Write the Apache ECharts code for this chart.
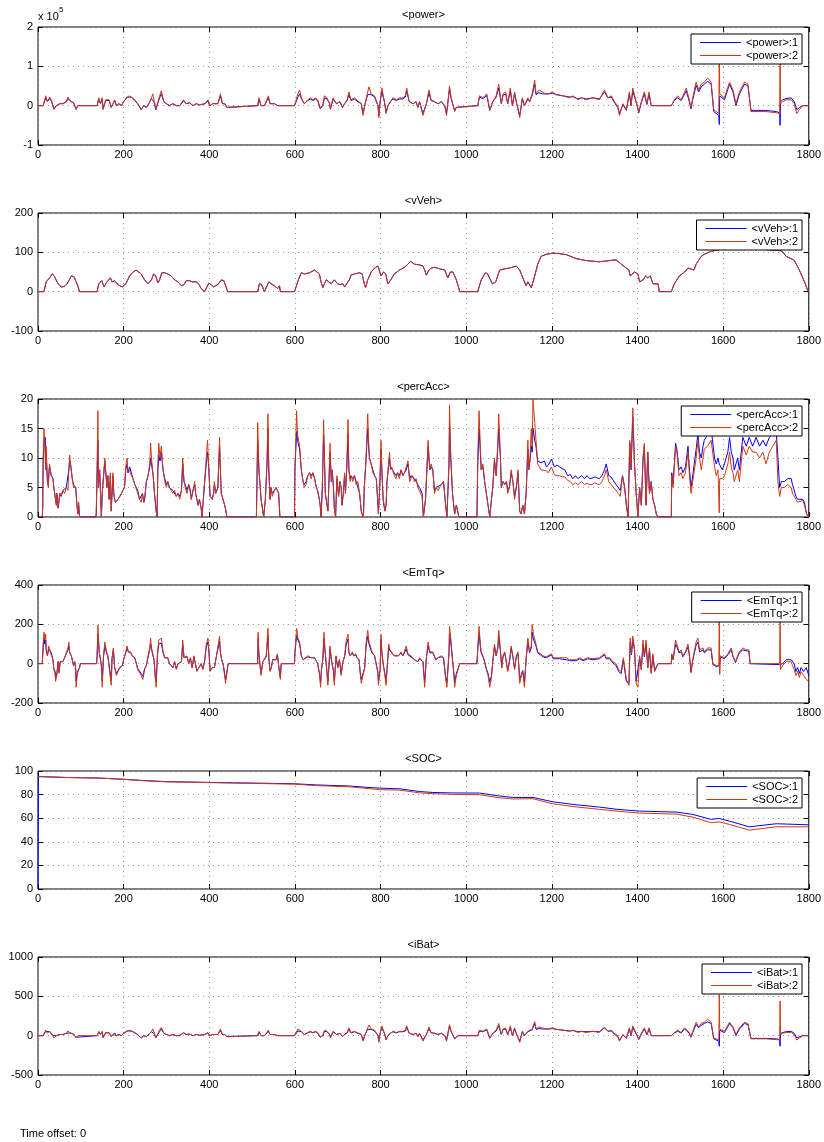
<!DOCTYPE html>
<html>
<head>
<meta charset="utf-8">
<script src="https://cdn.jsdelivr.net/npm/echarts@6/dist/echarts.min.js"></script>
<style>
  html, body { margin: 0; padding: 0; background: #fff; }
  #chart { width: 824px; height: 1142px; }
</style>
</head>
<body>
<div id="chart"></div>
<script>
// Simulation signals, sampled as [time (s), value] pairs.
const xTicks = [0, 200, 400, 600, 800, 1000, 1200, 1400, 1600, 1800];
const powerTicks = [-1, 0, 1, 2];          // x 10^5
const vVehTicks = [-100, 0, 100, 200];
const percAccTicks = [0, 5, 10, 15, 20];
const emTqTicks = [-200, 0, 200, 400];
const socTicks = [0, 20, 40, 60, 80, 100];
const iBatTicks = [-500, 0, 500, 1000];

// <power> in units of 10^5
const power1 = [[0,0],[12,0],[18,.2],[22,.1],[27,.18],[31,.12],[35,0],[37,-.08],[43,0],[47,-.04],[51,.05],[58,.05],[66,.1],[70,.18],[75,.12],[83,.07],[89,-.08],[93,0],[138,0],[142,.16],[146,.05],[150,.17],[152,-.08],[158,.13],[166,.13],[169,.17],[171,-.04],[175,.05],[179,.13],[183,0],[189,.05],[195,0],[200,.1],[208,.22],[214,.22],[220,.2],[226,.13],[233,.04],[241,-.1],[247,0],[253,-.04],[259,.05],[265,.18],[268,.22],[272,.08],[275,-.1],[278,-.08],[284,.2],[288,.3],[294,.1],[300,.05],[307,0],[315,.05],[323,0],[331,0],[340,.12],[346,.05],[354,.07],[362,0],[370,.05],[377,.02],[390,.05],[397,.12],[401,0],[408,.05],[420,.05],[426,.24],[431,.05],[436,.05],[441,-.04],[444,0],[513,0],[516,.16],[521,0],[529,0],[538,.2],[542,.05],[552,.05],[560,0],[564,.04],[568,0],[599,0],[607,.22],[611,.3],[615,.18],[622,.05],[630,.13],[636,.17],[642,.13],[648,.17],[653,.13],[659,-.08],[661,-.12],[665,0],[669,.2],[675,.17],[681,.05],[683,-.08],[689,.17],[697,.05],[705,.1],[711,-.04],[716,.05],[722,.13],[726,.28],[731,.13],[739,.17],[747,.1],[755,.05],[759,-.2],[763,0],[767,.17],[770,.28],[773,.32],[778,.28],[786,.22],[794,0],[796,-.25],[799,.1],[803,.36],[809,.1],[813,-.17],[817,0],[823,.1],[829,.17],[837,.13],[844,.17],[852,.17],[858,.22],[861,.38],[867,.1],[876,.05],[883,.1],[887,-.04],[891,.1],[899,-.2],[907,.05],[913,.33],[918,.13],[926,.1],[934,.05],[942,.1],[950,0],[954,-.2],[961,.42],[965,.17],[973,-.13],[977,-.04],[981,0],[1027,0],[1031,.22],[1039,.18],[1048,.26],[1055,-.12],[1062,.1],[1070,.22],[1076,.45],[1082,.05],[1086,.26],[1092,.3],[1097,.05],[1103,.38],[1108,0],[1113,.3],[1118,.05],[1125,-.25],[1131,.17],[1136,0],[1144,.17],[1148,.1],[1154,.26],[1160,.55],[1163,.28],[1170,.33],[1178,.3],[1185,.3],[1193,.3],[1201,.32],[1210,.28],[1226,.25],[1241,.22],[1249,.23],[1261,.17],[1269,.2],[1280,.17],[1296,.2],[1311,.17],[1323,.35],[1331,.2],[1339,.22],[1346,.08],[1354,-.05],[1358,-.2],[1366,.03],[1374,-.12],[1381,.3],[1385,0],[1389,.38],[1397,.08],[1403,-.18],[1409,.08],[1416,.3],[1422,.03],[1427,.3],[1432,0],[1440,0],[1444,-.05],[1448,0],[1479,0],[1486,.13],[1494,.2],[1502,.13],[1510,.3],[1514,.38],[1521,.1],[1525,-.08],[1529,.15],[1537,.52],[1543,.35],[1549,.48],[1556,.55],[1564,.62],[1572,.55],[1578,-.15],[1590,-.25],[1591,-.48],[1592,.25],[1595,.3],[1603,.15],[1615,.55],[1623,.35],[1630,0],[1638,.3],[1650,.55],[1658,.5],[1661,.45],[1665,-.12],[1700,-.12],[1724,-.15],[1732,-.18],[1733,-.5],[1734,.1],[1739,.15],[1747,.18],[1759,.2],[1766,.1],[1772,-.1],[1778,-.05],[1786,0],[1800,0]];
const power2 = [[0,0],[12,0],[18,.25],[22,.1],[27,.22],[31,.15],[35,0],[37,-.1],[43,0],[47,-.05],[51,.05],[58,.05],[66,.1],[70,.22],[75,.12],[83,.08],[89,-.1],[93,0],[138,0],[142,.2],[146,.05],[150,.2],[152,-.1],[158,.15],[166,.15],[169,.2],[171,-.05],[175,.05],[179,.15],[183,0],[189,.05],[195,0],[200,.1],[208,.2],[214,.25],[220,.2],[226,.15],[233,.05],[241,-.1],[247,0],[253,-.05],[259,.05],[265,.2],[268,.3],[272,.1],[275,-.1],[278,-.1],[284,.25],[288,.38],[294,.1],[300,.05],[307,0],[315,.05],[323,0],[331,0],[340,.15],[346,.05],[354,.08],[362,0],[370,.05],[377,.02],[390,.05],[397,.15],[401,0],[408,.05],[420,.05],[426,.3],[431,.05],[436,.05],[441,-.05],[444,0],[513,0],[516,.2],[521,0],[529,0],[538,.25],[542,.05],[552,.05],[560,0],[564,.05],[568,0],[599,0],[607,.3],[611,.4],[615,.2],[622,.05],[630,.15],[636,.2],[642,.15],[648,.2],[653,.15],[659,-.05],[661,-.1],[665,0],[669,.25],[675,.2],[681,.05],[683,-.1],[689,.2],[697,.05],[705,.1],[711,-.05],[716,.05],[722,.15],[726,.35],[731,.15],[739,.2],[747,.12],[755,.05],[759,-.25],[763,0],[767,.2],[770,.35],[773,.48],[778,.3],[786,.25],[794,0],[796,-.3],[799,.1],[803,.45],[809,.1],[813,-.2],[817,0],[823,.1],[829,.2],[837,.15],[844,.2],[852,.2],[858,.25],[861,.45],[867,.1],[876,.05],[883,.1],[887,-.05],[891,.1],[899,-.25],[907,.05],[913,.4],[918,.15],[926,.1],[934,.05],[942,.1],[950,0],[954,-.25],[961,.5],[965,.2],[973,-.15],[977,-.05],[981,0],[1027,0],[1031,.25],[1039,.2],[1048,.3],[1055,-.1],[1062,.1],[1070,.25],[1076,.55],[1082,.05],[1086,.3],[1092,.35],[1097,.05],[1103,.45],[1108,0],[1113,.35],[1118,.05],[1125,-.3],[1131,.2],[1136,0],[1144,.2],[1148,.1],[1154,.3],[1160,.65],[1163,.3],[1170,.4],[1178,.35],[1185,.3],[1193,.3],[1201,.35],[1210,.28],[1226,.25],[1241,.2],[1249,.25],[1261,.15],[1269,.2],[1280,.15],[1296,.2],[1311,.15],[1323,.4],[1331,.2],[1339,.25],[1346,.1],[1354,0],[1358,-.25],[1366,.05],[1374,-.1],[1381,.35],[1385,0],[1389,.45],[1397,.1],[1403,-.15],[1409,.1],[1416,.35],[1422,.05],[1427,.35],[1432,0],[1440,0],[1444,-.05],[1448,0],[1479,0],[1486,.15],[1494,.25],[1502,.15],[1510,.35],[1514,.45],[1521,.15],[1525,-.05],[1529,.2],[1537,.6],[1543,.4],[1549,.55],[1556,.6],[1564,.7],[1572,.6],[1578,-.1],[1590,-.2],[1591,1.5],[1592,.3],[1595,.35],[1603,.2],[1615,.6],[1623,.4],[1630,.05],[1638,.35],[1650,.6],[1658,.55],[1661,.5],[1665,-.15],[1700,-.15],[1724,-.18],[1732,-.2],[1733,1.5],[1734,.05],[1739,.1],[1747,.15],[1759,.15],[1766,.05],[1772,-.2],[1778,-.1],[1786,0],[1800,0]];

// <vVeh>
const vVeh1 = [[0,0],[14,0],[19,25],[23,30],[27,35],[33,45],[38,40],[43,28],[47,20],[54,12],[60,13],[66,17],[72,28],[78,40],[84,38],[88,35],[93,15],[97,0],[138,0],[142,20],[149,28],[154,12],[161,25],[169,35],[173,25],[179,28],[185,20],[191,15],[197,12],[205,20],[214,40],[222,50],[229,55],[233,55],[241,45],[249,30],[257,20],[261,18],[265,30],[270,45],[275,40],[280,22],[284,30],[289,48],[296,48],[303,45],[311,40],[319,30],[327,25],[335,15],[341,18],[346,28],[354,28],[360,25],[364,22],[370,25],[376,18],[381,8],[389,0],[393,5],[399,22],[404,18],[410,12],[415,15],[420,18],[424,15],[428,30],[434,28],[440,10],[443,0],[513,0],[517,20],[522,18],[529,0],[533,5],[539,25],[547,18],[552,15],[556,15],[560,8],[564,15],[566,0],[599,0],[608,30],[615,48],[622,45],[634,48],[646,55],[650,57],[657,45],[661,25],[665,10],[673,30],[677,35],[685,20],[692,30],[700,20],[706,18],[712,20],[716,12],[720,15],[727,30],[731,42],[739,45],[751,48],[757,45],[762,20],[765,10],[770,30],[778,50],[786,60],[794,65],[798,60],[801,40],[807,50],[812,45],[817,20],[824,30],[832,45],[844,55],[856,62],[864,70],[870,77],[879,70],[891,68],[899,65],[903,55],[907,42],[913,55],[918,60],[926,62],[938,58],[950,55],[957,35],[963,50],[969,50],[977,30],[985,0],[1027,0],[1035,30],[1045,48],[1050,45],[1061,20],[1069,25],[1078,55],[1090,58],[1101,60],[1117,65],[1125,55],[1136,25],[1140,15],[1144,25],[1152,10],[1160,40],[1167,70],[1175,90],[1187,95],[1202,98],[1215,97],[1234,94],[1257,84],[1280,79],[1311,76],[1327,78],[1350,81],[1362,70],[1374,60],[1380,55],[1383,40],[1393,50],[1401,45],[1405,25],[1413,30],[1419,40],[1424,35],[1430,40],[1436,20],[1448,20],[1451,0],[1479,0],[1486,20],[1498,40],[1510,50],[1518,60],[1521,65],[1532,55],[1537,70],[1549,90],[1556,95],[1568,101],[1585,106],[1600,108],[1650,108],[1700,107],[1735,104],[1740,100],[1747,90],[1766,80],[1778,55],[1790,25],[1797,5],[1800,0]];
const vVeh2 = [[0,0],[14,0],[19,25],[23,30],[27,35],[33,45],[38,40],[43,28],[47,20],[54,12],[60,13],[66,17],[72,28],[78,40],[84,38],[88,35],[93,15],[97,0],[138,0],[142,20],[149,28],[154,12],[161,25],[169,35],[173,25],[179,28],[185,20],[191,15],[197,12],[205,20],[214,40],[222,50],[229,55],[233,55],[241,45],[249,30],[257,20],[261,18],[265,30],[270,45],[275,40],[280,22],[284,30],[289,48],[296,48],[303,45],[311,40],[319,30],[327,25],[335,15],[341,18],[346,28],[354,28],[360,25],[364,22],[370,25],[376,18],[381,8],[389,0],[393,5],[399,22],[404,18],[410,12],[415,15],[420,18],[424,15],[428,30],[434,28],[440,10],[443,0],[513,0],[517,20],[522,18],[529,0],[533,5],[539,25],[547,18],[552,15],[556,15],[560,8],[564,15],[566,0],[599,0],[608,30],[615,48],[622,45],[634,48],[646,55],[650,57],[657,45],[661,25],[665,10],[673,30],[677,35],[685,20],[692,30],[700,20],[706,18],[712,20],[716,12],[720,15],[727,30],[731,42],[739,45],[751,48],[757,45],[762,20],[765,10],[770,30],[778,50],[786,60],[794,65],[798,60],[801,40],[807,50],[812,45],[817,20],[824,30],[832,45],[844,55],[856,62],[864,70],[870,77],[879,70],[891,68],[899,65],[903,55],[907,42],[913,55],[918,60],[926,62],[938,58],[950,55],[957,35],[963,50],[969,50],[977,30],[985,0],[1027,0],[1035,30],[1045,48],[1050,45],[1061,20],[1069,25],[1078,55],[1090,58],[1101,60],[1117,65],[1125,55],[1136,25],[1140,15],[1144,25],[1152,10],[1160,40],[1167,70],[1175,90],[1187,95],[1202,98],[1215,97],[1234,94],[1257,84],[1280,79],[1311,76],[1327,78],[1350,81],[1362,70],[1374,60],[1380,55],[1383,40],[1393,50],[1401,45],[1405,25],[1413,30],[1419,40],[1424,35],[1430,40],[1436,20],[1448,20],[1451,0],[1479,0],[1486,20],[1498,40],[1510,50],[1518,60],[1521,65],[1532,55],[1537,70],[1549,90],[1556,95],[1568,101],[1585,106],[1600,108],[1650,108],[1700,107],[1735,104],[1740,100],[1747,90],[1766,80],[1778,55],[1790,25],[1797,5],[1800,0]];

// <percAcc>
const percAcc1 = [[0,0],[10,0],[11,1.5],[12,9],[14,13],[17,13.5],[18,8],[19,11],[22,6],[24,5.5],[26,8],[27,8.5],[31,7],[35,6.5],[37,5],[41,3],[43,2],[44,4],[47,1.5],[51,4],[54,3.5],[58,4.5],[62,4.5],[66,5],[70,5],[72,8],[74,9.5],[76,9],[80,6.5],[83,5.5],[88,5],[91,2],[93,.5],[95,2],[97,0],[135,0],[136,.5],[140,13],[141,5],[144,8],[148,0],[150,4],[156,9.5],[160,9.5],[161,5],[163,7],[166,3],[169,7],[171,1],[175,7],[177,4],[179,3],[181,2.5],[187,3],[191,3.5],[195,4],[198,4.5],[202,5],[205,8],[208,9],[210,7.5],[214,8.5],[218,7.5],[222,6.5],[226,5.5],[229,5.5],[233,4.5],[237,3],[241,3],[244,4],[247,2.5],[249,3],[253,6],[257,7],[261,8.5],[263,10],[265,9],[269,7],[272,4],[276,1],[278,0],[280,8],[282,10.5],[285,9.5],[288,11],[292,8],[296,6.5],[300,5.5],[303,6],[307,5],[311,5],[315,4.5],[319,4.5],[323,3.5],[327,4],[331,3.5],[335,4.5],[338,9],[341,6],[344,5.5],[348,4.5],[352,5.5],[356,4.5],[358,3],[362,4.5],[366,5.5],[368,4],[371,3],[374,2],[377,3],[381,1.5],[383,0],[387,0],[391,7.5],[394,10],[396,11],[399,8],[402,3.5],[407,3],[410,4],[412,5.5],[415,4],[420,5],[424,12],[426,8],[428,4],[432,3],[436,2],[439,1],[441,0],[510,0],[511,4],[513,13],[516,8],[519,5],[521,3],[525,1],[527,0],[531,3],[535,9],[537,15],[539,8],[542,3],[544,5],[547,4],[550,4],[552,4.5],[556,5],[562,4],[565,0],[599,0],[600,8],[604,14.5],[606,13],[611,11.5],[615,8],[619,6],[622,5.5],[626,6],[630,7],[634,7.5],[638,7],[642,7.5],[646,6.5],[650,5],[653,4.5],[657,3],[659,2],[661,0],[664,5],[667,14],[669,10],[671,4],[675,2],[677,1],[679,5],[682,11],[685,6],[687,8],[690,5],[692,1.5],[695,0],[698,6.5],[700,5],[702,3.5],[705,6],[708,5],[710,2],[713,4],[716,7],[718,4],[721,8],[724,14],[726,8],[729,6.5],[731,7],[735,6.5],[739,7],[743,6],[747,6],[751,4],[755,1],[757,.5],[760,0],[762,5],[766,9.5],[770,15],[772,12],[774,10],[778,9],[782,8],[786,7],[790,6.5],[794,2],[795,.5],[798,5],[801,11.5],[803,8],[806,3],[810,1],[813,2],[815,6],[821,10],[823,8.5],[826,8.5],[832,7.5],[836,7],[840,7.5],[844,7],[848,8],[852,7],[856,7.5],[860,8],[864,9],[868,6.5],[871,7],[875,7],[879,6.5],[883,6.5],[887,5.5],[891,5],[897,4],[900,0],[905,3],[911,12],[915,8],[918,8.5],[922,8],[926,4.5],[930,5],[934,5],[942,5.5],[947,6],[952,2],[955,0],[960,9],[961,16],[964,10],[968,4],[973,.5],[977,2],[981,2],[983,0],[1025,0],[1027,9],[1030,15],[1033,11],[1035,8],[1039,8.5],[1043,6],[1047,4],[1051,2],[1055,0],[1059,3],[1062,5],[1066,9.5],[1070,7],[1074,12],[1076,15],[1080,10],[1082,5],[1086,6],[1090,5.5],[1094,6],[1097,4.5],[1101,5],[1105,7.5],[1109,6],[1113,3.5],[1118,5.5],[1121,7.5],[1125,1],[1128,.5],[1132,2],[1136,.5],[1140,4],[1144,11.5],[1146,8],[1149,9.5],[1152,12],[1154,11],[1156,15],[1160,13],[1163,12],[1165,10.5],[1167,9.5],[1171,9.4],[1175,9.2],[1179,9],[1183,9.5],[1187,8.5],[1192,8.8],[1199,9.8],[1206,8.5],[1212,8.8],[1218,8.5],[1224,8.2],[1230,8],[1237,7],[1243,7.2],[1249,6.5],[1255,7],[1261,6.5],[1269,7],[1276,6.5],[1282,7],[1288,6.5],[1294,6.6],[1300,6.8],[1306,6.6],[1311,6.5],[1317,7],[1323,8],[1327,9],[1333,7],[1338,6.8],[1342,6.5],[1350,5.5],[1355,5],[1360,4.5],[1365,7],[1370,5],[1374,2],[1378,0],[1382,12.5],[1385,8],[1389,17],[1393,9],[1397,4],[1401,0],[1405,5],[1409,2],[1413,10],[1416,12],[1420,2],[1424,11],[1428,4],[1432,6],[1436,3],[1440,2],[1444,.5],[1448,0],[1479,0],[1480,7.5],[1483,5.5],[1489,12.5],[1492,11.5],[1497,8],[1502,8.5],[1506,7.5],[1512,8.5],[1518,12],[1521,8.5],[1525,5],[1529,7],[1533,7],[1537,11.5],[1541,14],[1545,11],[1549,10],[1553,12],[1556,13],[1564,14],[1572,15],[1580,10],[1584,9],[1588,10],[1591,9],[1598,8],[1603,9],[1611,11],[1615,13.5],[1619,11],[1623,10],[1626,8],[1630,9],[1634,10],[1638,8],[1646,13.5],[1654,12],[1661,13.5],[1669,12],[1677,13.5],[1685,12],[1693,13],[1700,12],[1708,13.5],[1716,14],[1724,14.5],[1728,10],[1732,5],[1736,6],[1743,6],[1751,6.5],[1759,6.5],[1762,5.5],[1770,3.5],[1774,3],[1778,3],[1786,3],[1790,2.5],[1795,.5],[1800,0]];
const percAcc2 = [[0,0],[10,0],[11,1.5],[12,10],[14,15],[17,15],[18,8],[19,12],[22,6],[24,5],[26,8],[27,9],[31,7],[35,6.5],[37,5],[41,3],[43,2],[44,4],[47,1.5],[51,4],[54,3.5],[58,4.5],[62,4],[66,5],[70,4.5],[72,8],[74,10.5],[76,9],[80,6.5],[83,5],[88,5],[91,2],[93,.5],[95,2.5],[97,0],[135,0],[136,.5],[140,18],[141,5],[144,8],[148,0],[150,4],[156,10],[160,10],[161,5],[163,7],[166,3],[169,7.5],[171,1],[175,7.5],[177,4],[179,3],[181,2.5],[187,3],[191,3.5],[195,4],[198,4.5],[202,5],[205,8.5],[208,10],[210,7.5],[214,8],[218,7],[222,6.5],[226,5.5],[229,5.5],[233,4],[237,3],[241,2.5],[244,4],[247,2.5],[249,3],[253,6],[257,7],[261,9],[263,12.5],[265,10],[269,7],[272,4],[276,1],[278,0],[280,9],[282,12.5],[285,10],[288,12],[292,8],[296,6],[300,5],[303,6],[307,5],[311,4.5],[315,4],[319,4.5],[323,3.5],[327,4],[331,3],[335,4.5],[338,10],[341,6],[344,5],[348,4],[352,5.5],[356,4],[358,3],[362,4.5],[366,6],[368,4],[371,3],[374,2],[377,3],[381,1.5],[383,0],[387,0],[391,8],[394,11],[396,13],[399,8],[402,3.5],[407,3],[410,4],[412,6],[415,4],[420,5],[424,13.5],[426,8],[428,4],[432,3],[436,2],[439,1],[441,0],[510,0],[511,4],[513,16],[516,8],[519,5],[521,3],[525,1],[527,0],[531,3],[535,10],[537,17.5],[539,8],[542,3],[544,5],[547,3.5],[550,4],[552,4.5],[556,5],[562,4],[565,0],[599,0],[600,8],[604,18],[606,14],[611,12],[615,8],[619,6],[622,5],[626,5.5],[630,7],[634,7.5],[638,6.5],[642,7.5],[646,6.5],[650,5],[653,4.5],[657,3],[659,2],[661,0],[664,5],[667,16.5],[669,10],[671,4],[675,2],[677,1],[679,5],[682,12.5],[685,6],[687,8],[690,5],[692,1.5],[695,0],[698,7],[700,5],[702,3.5],[705,6],[708,5],[710,2],[713,4],[716,7.5],[718,4],[721,8.5],[724,16.5],[726,8],[729,6],[731,7],[735,6],[739,7],[743,5.5],[747,6],[751,4],[755,1],[757,.5],[760,0],[762,5],[766,10],[770,17.5],[772,13],[774,10],[778,9],[782,7.5],[786,7],[790,6.5],[794,2],[795,.5],[798,5],[801,13],[803,8],[806,3],[810,1],[813,2],[815,6],[821,11],[823,8],[826,8.5],[832,7],[836,6.5],[840,7.5],[844,6.5],[848,8],[852,7],[856,7.5],[860,8.5],[864,9.5],[868,6],[871,6.5],[875,7],[879,6],[883,6.5],[887,5],[891,5],[897,3.5],[900,0],[905,3],[911,13],[915,8],[918,9],[922,8],[926,4],[930,5],[934,4.5],[942,5.5],[947,6],[952,2],[955,0],[960,10],[961,19],[964,10],[968,4],[973,.5],[977,2],[981,2],[983,0],[1025,0],[1027,10],[1030,18],[1033,12],[1035,8],[1039,9],[1043,6],[1047,4],[1051,2],[1055,0],[1059,3],[1062,5],[1066,10],[1070,7],[1074,13],[1076,17.5],[1080,10],[1082,5],[1086,6],[1090,5.5],[1094,6],[1097,4],[1101,5],[1105,8],[1109,6],[1113,3],[1118,5.5],[1121,8],[1125,1],[1128,.5],[1132,2],[1136,.5],[1140,4],[1144,13],[1146,8],[1149,10],[1152,15],[1154,12],[1156,20],[1160,16],[1163,13],[1165,11],[1167,9],[1171,8.5],[1175,8],[1179,8],[1187,7.8],[1192,7.5],[1199,8.5],[1206,7.2],[1212,7],[1218,7],[1224,6.8],[1230,6.8],[1237,6.2],[1243,6],[1249,5.5],[1255,5.8],[1261,5.5],[1269,6],[1276,5.5],[1282,5.7],[1288,5.5],[1294,5.5],[1300,5.8],[1306,5.6],[1311,5.5],[1317,6],[1323,7],[1327,8],[1333,6],[1338,5.5],[1342,5.2],[1350,4.5],[1355,4],[1360,3.5],[1365,7],[1370,5],[1374,2],[1378,0],[1382,13],[1385,8],[1389,18.5],[1393,9],[1397,4],[1401,0],[1405,5],[1409,2],[1413,10],[1416,12.5],[1420,2],[1424,11],[1428,4],[1432,6],[1436,3],[1440,2],[1444,.5],[1448,0],[1479,0],[1480,7],[1483,5],[1489,12],[1492,11],[1497,7],[1502,7.5],[1506,6.5],[1512,7.5],[1518,11],[1521,7.5],[1525,4],[1529,6],[1533,6],[1537,10],[1541,13],[1545,10],[1549,8],[1553,10],[1556,11.5],[1564,12],[1572,13],[1580,8.5],[1584,7],[1588,8],[1590,8],[1591,.7],[1592,6.5],[1598,6.5],[1603,7],[1611,9],[1615,11],[1619,8.5],[1623,7.5],[1626,6],[1630,7],[1634,8],[1638,6],[1646,12],[1654,10.5],[1661,12],[1669,11],[1677,11],[1685,10],[1693,11],[1700,9],[1708,11],[1716,12],[1724,13],[1728,6],[1732,3.5],[1736,5],[1743,5],[1751,5.5],[1759,5],[1762,4],[1770,3],[1774,2.5],[1778,2.5],[1786,2.8],[1790,2],[1795,.5],[1800,0]];

// <EmTq>
const emTq1 = [[0,0],[10,0],[12,80],[14,130],[16,100],[18,120],[19,70],[22,40],[25,75],[27,65],[31,55],[35,20],[37,-25],[40,-40],[41,-70],[44,-50],[47,10],[49,-40],[52,10],[55,20],[58,10],[62,30],[66,30],[70,70],[72,90],[74,55],[78,40],[82,30],[83,-10],[86,10],[88,-25],[89,-90],[92,-40],[94,-50],[97,-20],[99,0],[137,0],[138,40],[140,150],[143,55],[144,45],[146,20],[149,-25],[150,-90],[153,35],[156,90],[160,55],[163,40],[167,45],[171,-85],[173,30],[176,70],[179,-20],[183,-50],[187,-35],[191,-20],[197,-10],[200,20],[205,55],[208,80],[211,60],[216,55],[220,40],[226,30],[229,20],[233,-25],[237,-35],[241,-50],[245,-65],[249,-25],[253,-10],[257,35],[261,70],[263,100],[265,75],[268,45],[271,20],[274,-65],[276,-90],[279,45],[282,100],[285,95],[288,105],[292,55],[296,30],[300,20],[303,30],[307,0],[311,10],[315,-20],[319,10],[323,-25],[327,0],[335,10],[338,100],[341,30],[344,20],[348,35],[352,0],[356,30],[360,-20],[364,35],[368,45],[371,-35],[376,-20],[381,0],[385,-25],[389,10],[393,85],[397,110],[399,65],[402,-35],[407,-20],[412,-20],[416,30],[420,35],[424,115],[426,55],[429,20],[433,-10],[438,-80],[441,-45],[444,0],[513,0],[514,130],[516,45],[519,-20],[521,-50],[525,10],[529,0],[533,35],[537,145],[539,30],[542,-35],[545,-20],[548,20],[552,10],[556,20],[559,45],[563,-25],[566,-70],[568,0],[599,0],[600,55],[604,145],[607,120],[611,100],[615,40],[619,20],[622,20],[630,35],[634,45],[638,30],[642,35],[646,30],[650,20],[653,0],[657,-45],[660,-95],[662,-30],[665,20],[668,130],[670,70],[673,0],[677,-90],[679,-30],[682,75],[685,20],[687,30],[690,-35],[692,-90],[696,35],[700,-20],[704,20],[708,-50],[712,10],[716,35],[720,100],[724,125],[726,55],[729,40],[734,55],[737,40],[742,45],[745,30],[750,20],[752,-35],[755,-80],[759,-90],[763,-20],[766,85],[770,140],[773,100],[776,80],[780,55],[786,40],[790,40],[794,-45],[795,-90],[799,-30],[801,125],[803,55],[806,0],[810,-50],[813,-90],[815,-30],[819,85],[822,65],[826,65],[832,40],[836,45],[842,40],[848,55],[852,40],[856,45],[860,75],[864,45],[871,35],[879,20],[887,10],[891,25],[899,10],[903,-95],[907,30],[911,90],[915,55],[918,45],[922,55],[929,20],[934,30],[942,35],[947,30],[952,-65],[955,-95],[960,60],[961,150],[964,110],[968,20],[971,-45],[973,-95],[977,-50],[981,-40],[985,0],[1025,0],[1027,70],[1030,155],[1033,90],[1035,55],[1039,35],[1043,10],[1047,-25],[1051,-50],[1055,-95],[1059,-60],[1062,10],[1066,85],[1070,40],[1074,80],[1076,140],[1080,60],[1083,-20],[1086,35],[1090,55],[1094,45],[1097,-35],[1101,10],[1105,80],[1109,35],[1113,-25],[1117,35],[1121,50],[1125,-80],[1128,-60],[1132,-35],[1136,-95],[1140,25],[1144,110],[1148,55],[1152,80],[1154,160],[1157,125],[1160,130],[1163,90],[1167,55],[1171,45],[1179,35],[1187,30],[1199,45],[1203,25],[1218,25],[1234,20],[1241,15],[1257,15],[1265,25],[1273,15],[1284,25],[1296,20],[1311,25],[1323,45],[1327,25],[1335,25],[1342,5],[1350,-10],[1356,-40],[1362,-50],[1367,20],[1374,-90],[1380,-100],[1383,110],[1386,45],[1389,120],[1393,70],[1397,-90],[1401,-100],[1405,30],[1409,-30],[1413,100],[1416,35],[1420,100],[1424,-20],[1428,70],[1432,-45],[1436,40],[1440,-35],[1444,-45],[1448,0],[1479,0],[1480,45],[1483,20],[1489,100],[1492,85],[1497,55],[1502,60],[1506,35],[1512,55],[1518,85],[1521,45],[1525,-45],[1529,15],[1537,95],[1541,110],[1545,60],[1549,55],[1553,70],[1556,55],[1564,70],[1572,70],[1576,-5],[1584,-15],[1591,-10],[1594,35],[1603,25],[1611,45],[1619,70],[1623,35],[1629,5],[1634,35],[1638,55],[1646,70],[1654,65],[1660,65],[1663,0],[1732,-5],[1734,-5],[1739,0],[1747,20],[1759,20],[1766,0],[1770,-40],[1774,-20],[1778,-50],[1782,-20],[1788,-40],[1794,-20],[1800,-60]];
const emTq2 = [[0,0],[10,0],[12,100],[14,160],[16,120],[18,150],[19,80],[22,40],[25,90],[27,70],[31,60],[35,20],[37,-30],[40,-50],[41,-90],[44,-60],[47,10],[49,-50],[52,10],[55,20],[58,10],[62,30],[66,30],[70,80],[72,110],[74,60],[78,40],[82,30],[83,-10],[86,10],[88,-30],[89,-120],[92,-50],[94,-60],[97,-20],[99,0],[137,0],[138,40],[140,195],[143,60],[144,50],[146,20],[149,-30],[150,-120],[153,40],[156,110],[160,60],[163,40],[167,50],[171,-110],[173,30],[176,80],[179,-20],[183,-60],[187,-40],[191,-20],[197,-10],[200,20],[205,60],[208,90],[211,60],[216,60],[220,40],[226,30],[229,20],[233,-30],[237,-40],[241,-60],[245,-80],[249,-30],[253,-10],[257,40],[261,80],[263,130],[265,80],[268,50],[271,20],[274,-80],[276,-120],[279,50],[282,120],[285,110],[288,130],[292,60],[296,30],[300,20],[303,30],[307,0],[311,10],[315,-20],[319,10],[323,-30],[327,0],[335,10],[338,120],[341,30],[344,20],[348,40],[352,0],[356,30],[360,-20],[364,40],[368,50],[371,-40],[376,-20],[381,0],[385,-30],[389,10],[393,100],[397,130],[399,70],[402,-40],[407,-20],[412,-20],[416,30],[420,40],[424,140],[426,60],[429,20],[433,-10],[438,-100],[441,-50],[444,0],[513,0],[514,160],[516,50],[519,-20],[521,-60],[525,10],[529,0],[533,40],[537,180],[539,30],[542,-40],[545,-20],[548,20],[552,10],[556,20],[559,50],[563,-30],[566,-80],[568,0],[599,0],[600,60],[604,180],[607,130],[611,110],[615,40],[619,20],[622,20],[630,40],[634,50],[638,30],[642,40],[646,30],[650,20],[653,0],[657,-50],[660,-120],[662,-30],[665,20],[668,160],[670,80],[673,0],[677,-110],[679,-30],[682,90],[685,20],[687,30],[690,-40],[692,-110],[696,40],[700,-20],[704,20],[708,-60],[712,10],[716,40],[720,120],[724,150],[726,60],[729,40],[734,60],[737,40],[742,50],[745,30],[750,20],[752,-40],[755,-100],[759,-110],[763,-20],[766,100],[770,170],[773,110],[776,90],[780,60],[786,40],[790,40],[794,-50],[795,-110],[799,-30],[801,150],[803,60],[806,0],[810,-60],[813,-110],[815,-30],[819,100],[822,70],[826,70],[832,40],[836,50],[842,40],[848,60],[852,40],[856,50],[860,90],[864,50],[871,40],[879,20],[887,10],[891,30],[899,10],[903,-120],[907,30],[911,110],[915,60],[918,50],[922,60],[929,20],[934,30],[942,40],[947,30],[952,-80],[955,-120],[960,70],[961,190],[964,130],[968,20],[971,-50],[973,-120],[977,-60],[981,-50],[985,0],[1025,0],[1027,80],[1030,190],[1033,100],[1035,60],[1039,40],[1043,10],[1047,-30],[1051,-60],[1055,-120],[1059,-70],[1062,10],[1066,100],[1070,40],[1074,90],[1076,170],[1080,70],[1083,-20],[1086,40],[1090,60],[1094,50],[1097,-40],[1101,10],[1105,90],[1109,40],[1113,-30],[1117,40],[1121,60],[1125,-100],[1128,-70],[1132,-40],[1136,-120],[1140,30],[1144,130],[1148,60],[1152,90],[1154,200],[1157,150],[1160,160],[1163,100],[1167,60],[1171,50],[1179,40],[1187,35],[1199,50],[1203,30],[1218,30],[1234,30],[1241,20],[1257,20],[1265,30],[1273,20],[1284,30],[1296,25],[1311,30],[1323,50],[1327,30],[1335,30],[1342,10],[1350,0],[1356,-30],[1362,-40],[1367,30],[1374,-80],[1380,-110],[1383,130],[1386,50],[1389,140],[1393,80],[1397,-100],[1401,-120],[1405,40],[1409,-30],[1413,120],[1416,40],[1420,120],[1424,-20],[1428,80],[1432,-50],[1436,50],[1440,-40],[1444,-50],[1448,0],[1479,0],[1480,50],[1483,20],[1489,120],[1492,100],[1497,60],[1502,70],[1506,40],[1512,60],[1518,100],[1521,50],[1525,-40],[1529,20],[1533,20],[1537,110],[1541,130],[1545,70],[1549,60],[1553,80],[1556,60],[1564,80],[1572,80],[1576,0],[1584,-10],[1590,-10],[1591,260],[1592,-55],[1594,40],[1603,30],[1611,50],[1619,80],[1623,40],[1629,10],[1634,40],[1638,60],[1646,80],[1654,70],[1660,70],[1663,0],[1732,0],[1733,250],[1734,-30],[1739,-10],[1747,10],[1759,10],[1762,-10],[1766,-30],[1770,-60],[1774,-40],[1778,-70],[1782,-40],[1788,-60],[1794,-80],[1800,-90]];

// <SOC>
const soc1 = [[0,0],[1,95.2],[66,94.5],[144,94],[198,93],[245,92],[300,91],[377,90.5],[455,90],[533,89.6],[599,89.2],[650,88.2],[727,87.3],[766,86.2],[797,85.5],[845,84.9],[891,82.6],[922,81.8],[969,81.4],[1031,81.3],[1078,78.8],[1109,77.6],[1156,77.6],[1202,73.9],[1249,71.7],[1311,69.4],[1350,67.6],[1405,66],[1490,65.2],[1529,63.2],[1572,59],[1591,59.8],[1615,57.5],[1661,52.7],[1724,55.3],[1800,54.4]];
const soc2 = [[0,95.5],[66,94.5],[144,94],[198,93],[245,91.8],[300,90.8],[377,90.3],[455,89.8],[533,89.3],[599,88.8],[650,87.6],[727,86.6],[766,85.3],[797,84.2],[845,83.8],[891,81.5],[922,80.8],[969,80.2],[1031,79.9],[1078,77.3],[1109,76.3],[1156,76.5],[1202,72.2],[1249,69.9],[1311,67.5],[1350,66.1],[1405,64.3],[1490,63.5],[1529,60.9],[1572,56.2],[1591,56.8],[1615,54.7],[1661,49.9],[1724,52.7],[1800,52.7]];

// <iBat>
const iBat1 = [[0,0],[12,0],[18,55],[22,30],[27,50],[31,35],[35,0],[37,-20],[43,0],[47,-10],[51,15],[58,15],[66,30],[70,50],[75,35],[83,20],[89,-20],[93,0],[138,0],[142,45],[146,15],[150,50],[152,-20],[158,35],[166,35],[169,50],[171,-10],[175,15],[179,35],[183,0],[189,15],[195,0],[200,30],[208,60],[214,60],[220,55],[226,35],[233,10],[241,-30],[247,0],[253,-10],[259,15],[265,50],[268,60],[272,20],[275,-30],[278,-20],[284,55],[288,85],[294,30],[300,15],[307,0],[315,15],[323,0],[331,0],[340,35],[346,15],[354,20],[362,0],[370,15],[377,5],[390,15],[397,35],[401,0],[408,15],[420,15],[426,65],[431,15],[436,15],[441,-10],[444,0],[513,0],[516,45],[521,0],[529,0],[538,55],[542,15],[552,15],[560,0],[564,10],[568,0],[599,0],[607,60],[611,85],[615,50],[622,15],[630,35],[636,50],[642,35],[648,50],[653,35],[659,-20],[661,-35],[665,0],[669,55],[675,50],[681,15],[683,-20],[689,50],[697,15],[705,30],[711,-10],[716,15],[722,35],[726,80],[731,35],[739,50],[747,30],[755,15],[759,-55],[763,0],[767,50],[770,80],[773,90],[778,80],[786,60],[794,0],[796,-70],[799,30],[803,100],[809,30],[813,-50],[817,0],[823,30],[829,50],[837,35],[844,50],[852,50],[858,60],[861,105],[867,30],[876,15],[883,30],[887,-10],[891,30],[899,-55],[907,15],[913,90],[918,35],[926,30],[934,15],[942,30],[950,0],[954,-55],[961,120],[965,50],[973,-35],[977,-10],[981,0],[1027,0],[1031,60],[1039,50],[1048,75],[1055,-35],[1062,30],[1070,60],[1076,125],[1082,15],[1086,75],[1092,85],[1097,15],[1103,105],[1108,0],[1113,85],[1118,15],[1125,-70],[1131,50],[1136,0],[1144,50],[1148,30],[1154,75],[1160,155],[1163,80],[1170,90],[1178,85],[1185,85],[1193,85],[1201,90],[1210,80],[1226,70],[1241,60],[1249,65],[1261,50],[1269,55],[1280,50],[1296,55],[1311,50],[1323,100],[1331,55],[1339,60],[1346,20],[1354,-15],[1358,-55],[1366,10],[1374,-35],[1381,85],[1385,0],[1389,105],[1397,20],[1403,-50],[1409,20],[1416,85],[1422,10],[1427,85],[1432,0],[1440,0],[1444,-15],[1448,0],[1479,0],[1486,35],[1494,55],[1502,35],[1510,85],[1514,105],[1521,30],[1525,-20],[1529,40],[1537,145],[1543,100],[1549,135],[1556,155],[1564,175],[1572,155],[1578,-40],[1590,-70],[1591,-135],[1592,70],[1595,85],[1603,40],[1615,155],[1623,100],[1630,0],[1638,85],[1650,155],[1658,140],[1661,125],[1665,-35],[1700,-35],[1724,-40],[1732,-50],[1733,-135],[1734,30],[1739,40],[1747,50],[1759,55],[1766,30],[1772,-30],[1778,-15],[1786,0],[1800,0]];
const iBat2 = [[0,0],[12,0],[18,70],[22,30],[27,60],[31,40],[35,0],[37,-30],[43,0],[47,-15],[51,15],[58,15],[66,30],[70,60],[75,35],[83,20],[89,-30],[93,0],[138,0],[142,55],[146,15],[150,55],[152,-30],[158,40],[166,40],[169,55],[171,-15],[175,15],[179,40],[183,0],[189,15],[195,0],[200,30],[208,55],[214,70],[220,55],[226,40],[233,15],[241,-30],[247,0],[253,-15],[259,15],[265,55],[268,85],[272,30],[275,-30],[278,-30],[284,70],[288,105],[294,30],[300,15],[307,0],[315,15],[323,0],[331,0],[340,40],[346,15],[354,20],[362,0],[370,15],[377,5],[390,15],[397,40],[401,0],[408,15],[420,15],[426,85],[431,15],[436,15],[441,-15],[444,0],[513,0],[516,55],[521,0],[529,0],[538,70],[542,15],[552,15],[560,0],[564,15],[568,0],[599,0],[607,85],[611,110],[615,55],[622,15],[630,40],[636,55],[642,40],[648,55],[653,40],[659,-15],[661,-30],[665,0],[669,70],[675,55],[681,15],[683,-30],[689,55],[697,15],[705,30],[711,-15],[716,15],[722,40],[726,100],[731,40],[739,55],[747,35],[755,15],[759,-70],[763,0],[767,55],[770,100],[773,135],[778,85],[786,70],[794,0],[796,-85],[799,30],[803,125],[809,30],[813,-55],[817,0],[823,30],[829,55],[837,40],[844,55],[852,55],[858,70],[861,125],[867,30],[876,15],[883,30],[887,-15],[891,30],[899,-70],[907,15],[913,110],[918,40],[926,30],[934,15],[942,30],[950,0],[954,-70],[961,140],[965,55],[973,-40],[977,-15],[981,0],[1027,0],[1031,70],[1039,55],[1048,85],[1055,-30],[1062,30],[1070,70],[1076,155],[1082,15],[1086,85],[1092,100],[1097,15],[1103,125],[1108,0],[1113,100],[1118,15],[1125,-85],[1131,55],[1136,0],[1144,55],[1148,30],[1154,85],[1160,180],[1163,85],[1170,110],[1178,100],[1185,85],[1193,85],[1201,100],[1210,80],[1226,70],[1241,55],[1249,70],[1261,40],[1269,55],[1280,40],[1296,55],[1311,40],[1323,110],[1331,55],[1339,70],[1346,30],[1354,0],[1358,-70],[1366,15],[1374,-30],[1381,100],[1385,0],[1389,125],[1397,30],[1403,-40],[1409,30],[1416,100],[1422,15],[1427,100],[1432,0],[1440,0],[1444,-15],[1448,0],[1479,0],[1486,40],[1494,70],[1502,40],[1510,100],[1514,125],[1521,40],[1525,-15],[1529,55],[1537,170],[1543,110],[1549,155],[1556,170],[1564,210],[1572,170],[1578,-30],[1590,-55],[1591,520],[1592,85],[1595,100],[1603,55],[1615,170],[1623,110],[1630,15],[1638,100],[1650,170],[1658,155],[1661,140],[1665,-40],[1700,-40],[1724,-50],[1732,-55],[1733,440],[1734,15],[1739,30],[1747,40],[1759,40],[1766,15],[1772,-55],[1778,-30],[1786,0],[1800,0]];

const panels = [
  { name: 'power',   ticks: powerTicks,   s1: power1,   s2: power2 },
  { name: 'vVeh',    ticks: vVehTicks,    s1: vVeh1,    s2: vVeh2 },
  { name: 'percAcc', ticks: percAccTicks, s1: percAcc1, s2: percAcc2 },
  { name: 'EmTq',    ticks: emTqTicks,    s1: emTq1,    s2: emTq2 },
  { name: 'SOC',     ticks: socTicks,     s1: soc1,     s2: soc2 },
  { name: 'iBat',    ticks: iBatTicks,    s1: iBat1,    s2: iBat2 }
];

// Layout of the stacked subplots
const PLOT_LEFT = 38, PLOT_W = 771, PLOT_H = 118, TOP0 = 27, STEP = 186;
const BLUE = '#0000ff', RED = '#d03810';
const FONT = '"Liberation Sans", Arial, Helvetica, sans-serif';
// thin horizontal bar used as the legend line sample
const LINE_ICON = 'path://M0,0L41,0L41,1L0,1Z';

const grid = [], xAxis = [], yAxis = [], series = [], legend = [], graphic = [];
const tick = { show: true, inside: true, length: 5, lineStyle: { color: '#000', width: 1 } };
const noLine = { show: false, onZero: false };
const dotted = { show: true, lineStyle: { color: '#9a9a9a', width: 1, type: [1, 4] } };
const plain = v => String(v);
const label = { color: '#000', fontSize: 11, fontFamily: FONT, formatter: plain,
                showMinLabel: true, showMaxLabel: true };

panels.forEach((p, i) => {
  const top = TOP0 + i * STEP;
  grid.push({ left: PLOT_LEFT, top: top, width: PLOT_W, height: PLOT_H, show: true,
              borderColor: '#000', borderWidth: 1, backgroundColor: '#fff' });

  const xmin = xTicks[0], xmax = xTicks[xTicks.length - 1], xint = xTicks[1] - xTicks[0];
  const ymin = p.ticks[0], ymax = p.ticks[p.ticks.length - 1], yint = p.ticks[1] - p.ticks[0];

  xAxis.push({ type: 'value', gridIndex: i, position: 'bottom', min: xmin, max: xmax, interval: xint,
               axisLine: noLine, axisTick: tick, splitLine: dotted,
               axisLabel: Object.assign({ margin: 4 }, label) });
  xAxis.push({ type: 'value', gridIndex: i, position: 'top', min: xmin, max: xmax, interval: xint,
               axisLine: noLine, axisTick: tick, splitLine: { show: false }, axisLabel: { show: false } });
  yAxis.push({ type: 'value', gridIndex: i, position: 'left', min: ymin, max: ymax, interval: yint,
               axisLine: noLine, axisTick: tick, splitLine: dotted,
               axisLabel: Object.assign({ margin: 5 }, label) });
  yAxis.push({ type: 'value', gridIndex: i, position: 'right', min: ymin, max: ymax, interval: yint,
               axisLine: noLine, axisTick: tick, splitLine: { show: false }, axisLabel: { show: false } });

  const n1 = '<' + p.name + '>:1', n2 = '<' + p.name + '>:2';
  series.push({ type: 'line', name: n1, xAxisIndex: 2 * i, yAxisIndex: 2 * i, data: p.s1,
                symbol: 'none', showSymbol: false, z: 2,
                lineStyle: { color: BLUE, width: 1 }, itemStyle: { color: BLUE } });
  series.push({ type: 'line', name: n2, xAxisIndex: 2 * i, yAxisIndex: 2 * i, data: p.s2,
                symbol: 'none', showSymbol: false, z: 3,
                lineStyle: { color: RED, width: 1 }, itemStyle: { color: RED } });

  legend.push({ data: [
                  { name: n1, icon: LINE_ICON, itemStyle: { color: BLUE } },
                  { name: n2, icon: LINE_ICON, itemStyle: { color: RED } }
                ],
                orient: 'vertical', right: 22, top: top + 7, symbolKeepAspect: true,
                itemWidth: 41, itemHeight: 13, itemGap: 2, padding: [3, 4, 3, 9],
                borderColor: '#000', borderWidth: 1, backgroundColor: '#fff', borderRadius: 0,
                selectedMode: false, z: 10,
                textStyle: { fontSize: 11, color: '#000', fontFamily: FONT } });

  graphic.push({ type: 'text', x: PLOT_LEFT + PLOT_W / 2, y: top - 12, z: 10,
                 style: { text: '<' + p.name + '>', fill: '#000', font: '11px ' + FONT,
                          textAlign: 'center', textVerticalAlign: 'middle' } });
});

// power axis multiplier and footer
graphic.push({ type: 'text', x: 38, y: 17, style: { text: 'x 10', fill: '#000', font: '11px ' + FONT, textAlign: 'left', textVerticalAlign: 'middle' } });
graphic.push({ type: 'text', x: 59, y: 10, style: { text: '5', fill: '#000', font: '8px ' + FONT, textAlign: 'left', textVerticalAlign: 'middle' } });
graphic.push({ type: 'text', x: 20, y: 1134, style: { text: 'Time offset: 0', fill: '#000', font: '11px ' + FONT, textAlign: 'left', textVerticalAlign: 'middle' } });

const chart = echarts.init(document.getElementById('chart'), null, { renderer: 'canvas' });
chart.setOption({
  backgroundColor: '#fff',
  animation: false,
  grid, xAxis, yAxis, series, legend, graphic
});
</script>
</body>
</html>
